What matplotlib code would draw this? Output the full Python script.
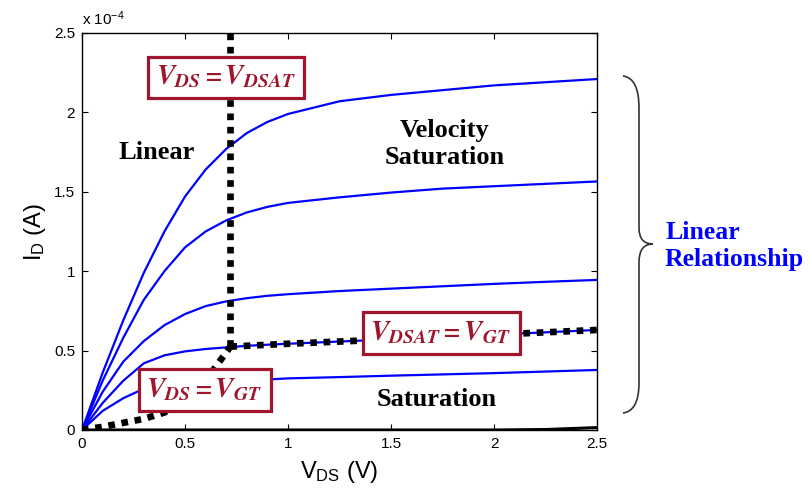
import matplotlib.pyplot as plt
from matplotlib.path import Path
from matplotlib.patches import PathPatch

plt.rcParams['font.family'] = ['Liberation Sans', 'DejaVu Sans']
plt.rcParams['mathtext.fontset'] = 'custom'
plt.rcParams['mathtext.rm'] = 'Liberation Sans'
plt.rcParams['mathtext.it'] = 'Liberation Sans'

# drain voltage grid (V)
vds = [0, 0.1, 0.2, 0.3, 0.4, 0.5, 0.6, 0.7, 0.8, 0.9, 1.0,
       1.25, 1.5, 1.75, 2.0, 2.25, 2.5]

# drain current, in units of 1e-4 A, one list per gate voltage
id_vgs25 = [0, 0.36, 0.69, 0.99, 1.25, 1.47, 1.64, 1.77, 1.87, 1.94, 1.99,
            2.07, 2.11, 2.14, 2.17, 2.19, 2.21]
id_vgs20 = [0, 0.31, 0.58, 0.82, 1.0, 1.15, 1.25, 1.32, 1.37, 1.405, 1.43,
            1.465, 1.495, 1.52, 1.535, 1.55, 1.565]
id_vgs15 = [0, 0.24, 0.43, 0.56, 0.66, 0.73, 0.78, 0.81, 0.83, 0.845, 0.855,
            0.875, 0.89, 0.905, 0.92, 0.933, 0.945]
id_vgs10 = [0, 0.17, 0.31, 0.42, 0.47, 0.495, 0.51, 0.52, 0.53, 0.537, 0.543,
            0.557, 0.571, 0.585, 0.6, 0.615, 0.63]
id_vgs05 = [0, 0.12, 0.2, 0.26, 0.285, 0.297, 0.303, 0.308, 0.312, 0.318, 0.325,
            0.333, 0.342, 0.35, 0.358, 0.368, 0.378]
id_vgs00 = [0, 0, 0, 0, 0, 0, 0, 0, 0, 0, 0,
            0, 0, 0, 0, 0.003, 0.015]

# boundary lines
vgt_x = [0, 0.1, 0.2, 0.3, 0.4, 0.5, 0.6, 0.72]
vgt_y = [0, 0.02, 0.045, 0.07, 0.11, 0.19, 0.31, 0.525]
dsat_x = [0.72, 0.72]
dsat_y = [2.5, 0.525]
sat_x = [0.72, 1.0, 1.5, 2.0, 2.5]
sat_y = [0.525, 0.543, 0.571, 0.6, 0.63]

fig = plt.figure(figsize=(8.09, 4.96), dpi=100)
ax = fig.add_axes([0.1014, 0.1331, 0.6366, 0.8004])

for cur in [id_vgs25, id_vgs20, id_vgs15, id_vgs10, id_vgs05]:
    ax.plot(vds, cur, color='#0000FF', lw=1.6, zorder=2)
ax.plot(vds, id_vgs00, color='black', lw=2.2, zorder=2)

dots = dict(color='black', lw=4.8, linestyle=(0, (1, 1)), zorder=3)
ax.plot(vgt_x, vgt_y, **dots)
ax.plot(dsat_x, dsat_y, **dots)
ax.plot(sat_x, sat_y, **dots)

ax.set_xlim(0, 2.5)
ax.set_ylim(0, 2.5)
ax.set_xticks([0, 0.5, 1, 1.5, 2, 2.5])
ax.set_xticklabels(['0', '0.5', '1', '1.5', '2', '2.5'])
ax.set_yticks([0, 0.5, 1, 1.5, 2, 2.5])
ax.set_yticklabels(['0', '0.5', '1', '1.5', '2', '2.5'])
ax.tick_params(direction='in', top=True, right=True, labelsize=11, length=4, pad=5)
for s in ax.spines.values():
    s.set_linewidth(1.0)
ax.text(0, 1.012, r'x 10$^{-4}$', transform=ax.transAxes, fontsize=11,
        ha='left', va='bottom')
ax.set_xlabel(r'V$_{\mathrm{DS}}$ (V)', fontsize=17, labelpad=6)
ax.set_ylabel(r'I$_{\mathrm{D}}$ (A)', fontsize=17, labelpad=4)

red = '#A0152B'
box = dict(boxstyle='square,pad=0.28', fc='white', ec=red, lw=2.3)
ax.text(0.70, 2.22, r'$\mathbfit{V_{DS}=V_{DSAT}}$', color=red, fontsize=20,
        ha='center', va='center', bbox=box, zorder=5, math_fontfamily='stix')
ax.text(1.743, 0.611, r'$\mathbfit{V_{DSAT}=V_{GT}}$', color=red, fontsize=20,
        ha='center', va='center', bbox=box, zorder=5, math_fontfamily='stix')
ax.text(0.595, 0.252, r'$\mathbfit{V_{DS}=V_{GT}}$', color=red, fontsize=20,
        ha='center', va='center', bbox=box, zorder=5, math_fontfamily='stix')

serif = ['Liberation Serif', 'DejaVu Serif']
ax.text(0.36, 1.75, 'Linear', family=serif, fontweight='bold', fontsize=19,
        ha='center', va='center')
ax.text(1.76, 1.80, 'Velocity\nSaturation', family=serif, fontweight='bold',
        fontsize=19, ha='center', va='center', linespacing=1.25)
ax.text(1.72, 0.19, 'Saturation', family=serif, fontweight='bold', fontsize=19,
        ha='center', va='center')

# curly brace to the right of the axes (pixel positions -> figure fraction)
W, H = 809, 496
pts = [(623, 76), (639, 78), (639, 108),
       (639, 228), (639, 244), (653, 244),
       (639, 244), (639, 262), (639, 383),
       (639, 411), (623, 413)]
verts = [(px / W, 1 - py / H) for px, py in pts]
codes = [Path.MOVETO, Path.CURVE3, Path.CURVE3,
         Path.LINETO, Path.CURVE3, Path.CURVE3,
         Path.CURVE3, Path.CURVE3, Path.LINETO,
         Path.CURVE3, Path.CURVE3]
fig.patches.append(PathPatch(Path(verts, codes), fc='none', ec='#333333',
                             lw=1.2, transform=fig.transFigure))
fig.text(665 / W, 1 - 246 / H, 'Linear\nRelationship', family=serif,
         fontweight='bold', fontsize=18.5, color='#0000FF', ha='left',
         va='center', linespacing=1.2)

fig.savefig('out.png', dpi=100)
